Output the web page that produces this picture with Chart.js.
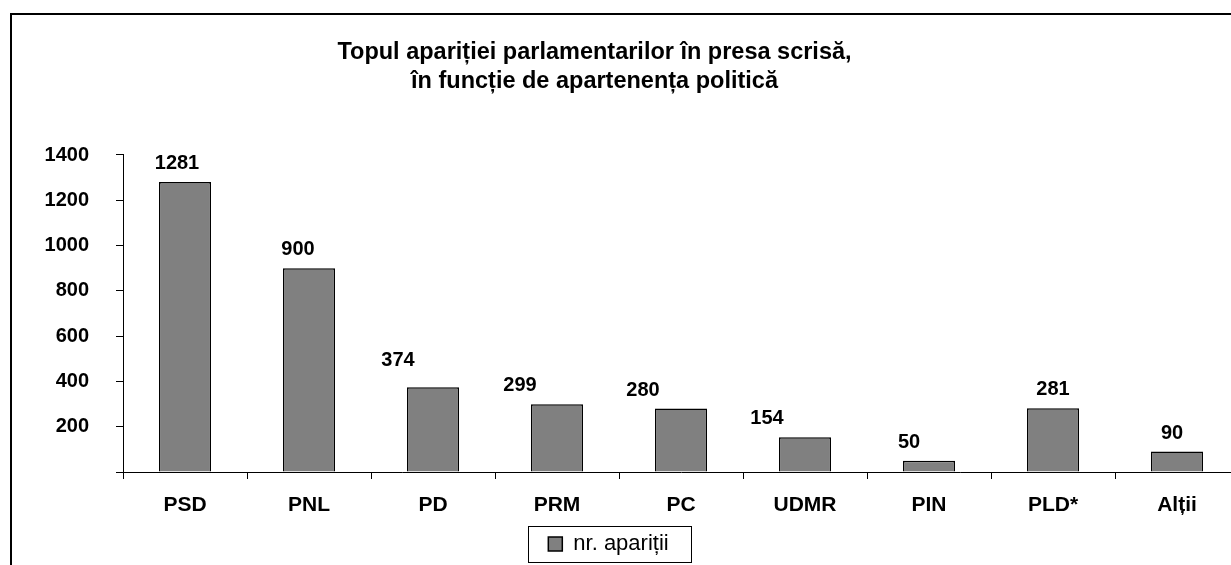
<!DOCTYPE html>
<html>
<head>
<meta charset="utf-8">
<script src="https://cdn.jsdelivr.net/npm/chart.js@4/dist/chart.umd.min.js"></script>
<style>
    html, body { margin: 0; padding: 0; background: #fff; overflow: hidden; }
    #frame { position: absolute; left: 10px; top: 13px; width: 1400px; height: 800px; border: 2px solid #000; }
    #mycanvas { position: absolute; left: 0; top: 0; }
</style>
</head>
<body>
<div id="frame"></div>
<canvas id="mycanvas" width="1245" height="565"></canvas>
<script>
var partide = ['PSD', 'PNL', 'PD', 'PRM', 'PC', 'UDMR', 'PIN', 'PLD*', 'Alții'];
var aparitii = [1281, 900, 374, 299, 280, 154, 50, 281, 90];
var yTicks = [0, 200, 400, 600, 800, 1000, 1200, 1400];
var titlu = ['Topul apariției parlamentarilor în presa scrisă,', 'în funcție de apartenența politică'];
var legenda = 'nr. apariții';

// the value labels in the original were nudged by hand, in px
var labelShiftX = [-8, -11, -35, -37, -38, -38, -20, 0, -5];
var labelShiftY = [0, 0, -8, 0, 0, 0, 0, 0, 0];

Chart.defaults.font.family = "'Liberation Sans', Arial, sans-serif";
Chart.defaults.color = '#000';

// move title and legend sideways, the way they sit in the original sheet
var shiftBlocks = {
    id: 'shiftBlocks',
    afterLayout: function (chart) {
        chart.titleBlock.left -= 25;
        chart.titleBlock.right -= 25;
        chart.legend.left -= 11;
        chart.legend.right -= 11;
    }
};

// values on top of the bars + box around the legend
var valueLabels = {
    id: 'valueLabels',
    afterDatasetsDraw: function (chart) {
        var ctx = chart.ctx;
        var meta = chart.getDatasetMeta(0);
        ctx.save();
        ctx.font = "bold 20px 'Liberation Sans', Arial, sans-serif";
        ctx.fillStyle = '#000';
        ctx.textAlign = 'center';
        ctx.textBaseline = 'alphabetic';
        meta.data.forEach(function (bar, i) {
            ctx.fillText(String(chart.data.datasets[0].data[i]),
                bar.x + labelShiftX[i], bar.y - 13 + labelShiftY[i]);
        });
        ctx.restore();
    },
    afterDraw: function (chart) {
        var lg = chart.legend;
        var cx = (lg.left + lg.right) / 2;
        var ctx = chart.ctx;
        ctx.save();
        ctx.strokeStyle = '#000';
        ctx.lineWidth = 1;
        ctx.strokeRect(Math.round(cx - 81) + 0.5, lg.top + 1.5, 163, 36);
        ctx.restore();
    }
};

var chartdata = {
    labels: partide,
    datasets: [
        {
            label: legenda,
            backgroundColor: '#808080',
            borderColor: '#000',
            borderWidth: 1.5,
            categoryPercentage: 1,
            barPercentage: 0.42,
            data: aparitii
        }
    ]
};

var ctx = document.getElementById('mycanvas');

var barGraph = new Chart(ctx, {
    type: 'bar',
    data: chartdata,
    plugins: [shiftBlocks, valueLabels],
    options: {
        responsive: false,
        animation: false,
        layout: { padding: { left: 0, right: 6, top: 0, bottom: 0 } },
        plugins: {
            title: {
                display: true,
                text: titlu,
                color: '#000',
                font: { size: 23.5, weight: 'bold', lineHeight: 1.234 },
                padding: { top: 38, bottom: 59 }
            },
            legend: {
                position: 'bottom',
                labels: {
                    boxWidth: 14,
                    boxHeight: 14,
                    padding: 8,
                    color: '#000',
                    font: { size: 22 }
                }
            },
            tooltip: { enabled: false }
        },
        scales: {
            x: {
                grid: { drawOnChartArea: false, color: '#000', tickLength: 7, offset: true },
                border: { color: '#000', width: 1 },
                ticks: { padding: 14, font: { size: 21, weight: 'bold' }, maxRotation: 0 },
                afterFit: function (scale) { scale.height = 53; }
            },
            y: {
                min: 0,
                max: 1400,
                grid: { drawOnChartArea: false, color: '#000', tickLength: 7 },
                border: { color: '#000', width: 1 },
                afterBuildTicks: function (scale) {
                    scale.ticks = yTicks.map(function (v) { return { value: v }; });
                },
                ticks: {
                    padding: 27,
                    font: { size: 20, weight: 'bold' },
                    callback: function (v) { return v === 0 ? '' : v; }
                },
                afterFit: function (scale) { scale.width = 123; }
            }
        }
    }
});
</script>
</body>
</html>
